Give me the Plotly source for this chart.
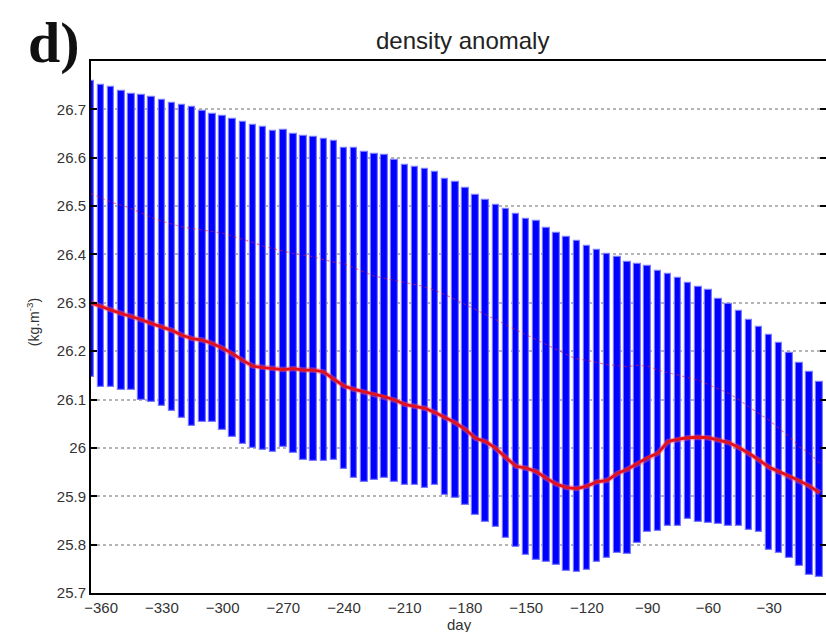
import plotly.graph_objects as go

# Day offsets of each sample (every 5 days)
days = list(range(-365, 0, 5))

# Upper end of the spread at each day (kg m^-3)
upper = [
    26.758, 26.750, 26.746, 26.738, 26.732, 26.729, 26.725, 26.720, 26.713, 26.708,
    26.704, 26.697, 26.691, 26.687, 26.681, 26.673, 26.667, 26.663, 26.655, 26.657,
    26.650, 26.644, 26.642, 26.639, 26.634, 26.621, 26.620, 26.612, 26.608, 26.605,
    26.596, 26.586, 26.581, 26.576, 26.570, 26.557, 26.550, 26.538, 26.522, 26.513,
    26.502, 26.493, 26.483, 26.473, 26.469, 26.455, 26.444, 26.436, 26.428, 26.417,
    26.410, 26.400, 26.394, 26.385, 26.381, 26.376, 26.366, 26.359, 26.352, 26.340,
    26.333, 26.327, 26.307, 26.297, 26.283, 26.265, 26.250, 26.234, 26.217, 26.197,
    26.176, 26.157, 26.136,
]

# Lower end of the spread at each day
lower = [
    26.147, 26.125, 26.125, 26.119, 26.119, 26.099, 26.095, 26.086, 26.076, 26.061,
    26.046, 26.054, 26.054, 26.037, 26.023, 26.009, 25.999, 25.995, 25.992, 26.002,
    25.990, 25.975, 25.973, 25.973, 25.974, 25.956, 25.937, 25.929, 25.933, 25.937,
    25.930, 25.923, 25.923, 25.918, 25.923, 25.902, 25.896, 25.882, 25.861, 25.847,
    25.837, 25.813, 25.796, 25.779, 25.768, 25.765, 25.758, 25.745, 25.744, 25.748,
    25.765, 25.772, 25.783, 25.781, 25.804, 25.827, 25.829, 25.839, 25.839, 25.854,
    25.847, 25.845, 25.843, 25.839, 25.839, 25.830, 25.826, 25.789, 25.783, 25.772,
    25.755, 25.737, 25.734,
]

# Mean density anomaly at each day
mean = [
    26.300, 26.292, 26.285, 26.278, 26.272, 26.265, 26.257, 26.250, 26.243, 26.233,
    26.226, 26.223, 26.216, 26.206, 26.195, 26.181, 26.169, 26.166, 26.164, 26.162,
    26.164, 26.161, 26.161, 26.157, 26.142, 26.128, 26.121, 26.116, 26.111, 26.106,
    26.099, 26.090, 26.086, 26.082, 26.073, 26.063, 26.052, 26.038, 26.020, 26.013,
    25.999, 25.980, 25.962, 25.958, 25.951, 25.937, 25.925, 25.918, 25.916, 25.921,
    25.930, 25.933, 25.947, 25.956, 25.968, 25.980, 25.989, 26.013, 26.018, 26.021,
    26.022, 26.021, 26.016, 26.011, 26.001, 25.989, 25.975, 25.960, 25.951, 25.942,
    25.932, 25.921, 25.907,
]

# Secondary reference curve (thin dotted, mostly behind the bars)
ref_days = [-365, -355, -347, -332, -320, -314, -300, -286, -279, -266, -255, -246,
            -240, -225, -215, -203, -195, -186, -153, -138, -126, -120, -110, -100,
            -95, -90, -85, -65, -50, -45, -40, -30, -25, -20, -15, -10, -5]
ref_vals = [26.526, 26.508, 26.498, 26.471, 26.457, 26.453, 26.444, 26.426, 26.416,
            26.403, 26.395, 26.385, 26.381, 26.355, 26.347, 26.336, 26.326, 26.309,
            26.240, 26.210, 26.185, 26.181, 26.172, 26.168, 26.171, 26.169, 26.161,
            26.140, 26.113, 26.100, 26.085, 26.057, 26.040, 26.023, 26.002, 25.989,
            25.968]

x_ticks = [-360, -330, -300, -270, -240, -210, -180, -150, -120, -90, -60, -30]
x_tick_text = ["\u2212" + str(abs(v)) for v in x_ticks]
y_ticks = [25.7, 25.8, 25.9, 26.0, 26.1, 26.2, 26.3, 26.4, 26.5, 26.6, 26.7]
y_tick_text = ["25.7", "25.8", "25.9", "26", "26.1", "26.2", "26.3", "26.4",
               "26.5", "26.6", "26.7"]

TICK_FONT = dict(family="Liberation Sans, Arial, sans-serif", size=15, color="#333333")

fig = go.Figure()

fig.add_trace(go.Scatter(
    x=ref_days, y=ref_vals, mode="lines",
    line=dict(color="rgba(230,30,40,0.55)", width=1.2, dash="dot"),
    hoverinfo="skip",
))

fig.add_trace(go.Bar(
    x=days,
    y=[u - l for u, l in zip(upper, lower)],
    base=lower,
    width=3.2,
    marker=dict(color="#0000ff", line=dict(color="rgba(120,120,255,0.9)", width=1.2)),
))

fig.add_trace(go.Scatter(
    x=days, y=mean, mode="lines",
    line=dict(color="rgba(255,90,100,0.45)", width=5.5),
    hoverinfo="skip",
))
fig.add_trace(go.Scatter(
    x=days, y=mean, mode="lines",
    line=dict(color="rgb(228,16,28)", width=2.8),
))

# invisible trace so the mirrored right-hand tick axis is drawn
fig.add_trace(go.Scatter(x=[-300], y=[26.0], yaxis="y2", mode="markers",
                         marker=dict(opacity=0), hoverinfo="skip"))

fig.update_layout(
    width=826, height=632,
    margin=dict(l=91, r=0, t=61, b=39),
    plot_bgcolor="white", paper_bgcolor="white",
    showlegend=False, bargap=0,
    xaxis=dict(
        range=[-365, -1.9], tickvals=x_ticks, ticktext=x_tick_text,
        showline=True, linecolor="black", linewidth=2, mirror=True,
        ticks="", showgrid=False, zeroline=False, tickfont=TICK_FONT,
    ),
    yaxis=dict(
        range=[25.7, 26.8], tickvals=y_ticks, ticktext=y_tick_text,
        showline=True, linecolor="black", linewidth=2,
        ticks="inside", ticklen=6, tickwidth=2, tickcolor="black",
        showgrid=True, gridcolor="#b4b4b4", gridwidth=1.5, griddash="dot",
        zeroline=False, tickfont=TICK_FONT,
    ),
    yaxis2=dict(
        overlaying="y", side="right", range=[25.7, 26.8], tickvals=y_ticks,
        ticks="inside", ticklen=6, tickwidth=2, tickcolor="black",
        showticklabels=False, showgrid=False, showline=False, zeroline=False,
    ),
    annotations=[
        dict(text="density anomaly", xref="paper", yref="paper",
             x=0.5048, y=1.0376, xanchor="center", yanchor="middle", showarrow=False,
             font=dict(family="Liberation Sans, Arial, sans-serif", size=24, color="#222222")),
        dict(text="<b>d)</b>", xref="paper", yref="paper",
             x=-0.0503, y=1.0357, xanchor="center", yanchor="middle", showarrow=False,
             font=dict(family="Liberation Serif, Times New Roman, serif", size=58, color="#111111")),
        dict(text="day", xref="paper", yref="paper",
             x=0.502, y=-0.060, xanchor="center", yanchor="middle", showarrow=False,
             font=dict(family="Liberation Sans, Arial, sans-serif", size=15, color="#333333")),
        dict(text="(kg.m<sup>-3</sup>)", xref="paper", yref="paper", textangle=-90,
             x=-0.0789, y=0.509, xanchor="center", yanchor="middle", showarrow=False,
             font=dict(family="Liberation Sans, Arial, sans-serif", size=14, color="#333333")),
    ],
)

fig.write_html("out.html")
